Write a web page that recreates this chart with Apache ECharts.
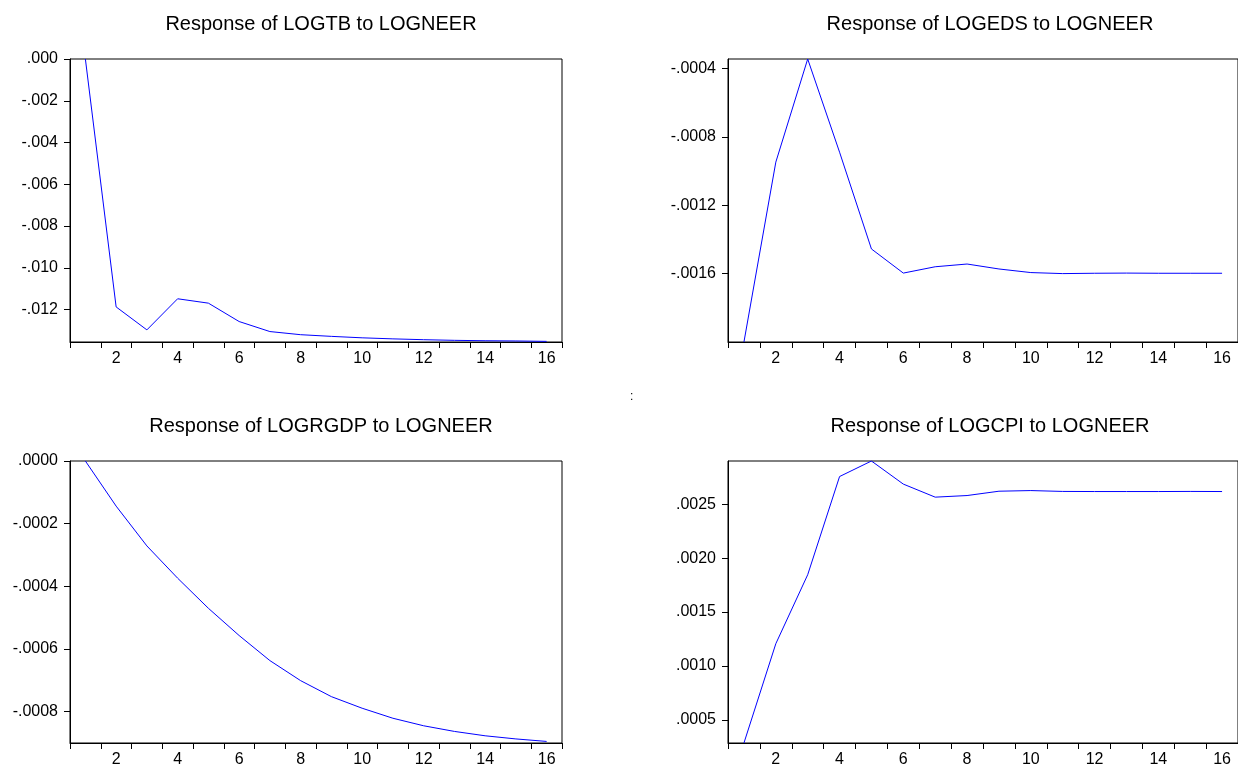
<!DOCTYPE html>
<html>
<head>
<meta charset="utf-8">
<script src="https://cdn.jsdelivr.net/npm/echarts@6/dist/echarts.min.js"></script>
<style>
  html, body { margin: 0; padding: 0; background: #fff; }
  #chart { width: 1238px; height: 768px; }
</style>
</head>
<body>
<div id="chart"></div>
<script>
// periods 1..16
const periods = ['1','2','3','4','5','6','7','8','9','10','11','12','13','14','15','16'];

const titles = [
  'Response of LOGTB to LOGNEER',
  'Response of LOGEDS to LOGNEER',
  'Response of LOGRGDP to LOGNEER',
  'Response of LOGCPI to LOGNEER'
];

// impulse responses
const logtb = [0.0000, -0.01187, -0.01297, -0.01148, -0.01169, -0.01257, -0.01305, -0.01320,
  -0.01328, -0.01335, -0.01340, -0.01344, -0.01347, -0.01349, -0.01350, -0.01352];
const logeds = [-0.00200, -0.000948, -0.000345, -0.00089, -0.001456, -0.001597, -0.00156, -0.001544,
  -0.001573, -0.001594, -0.00160, -0.001598, -0.001597, -0.001598, -0.001598, -0.001598];
const logrgdp = [0.0000, -0.000144, -0.000271, -0.000374, -0.00047, -0.000557, -0.000637, -0.000701,
  -0.000752, -0.000789, -0.000821, -0.000845, -0.000863, -0.000877, -0.000887, -0.000895];
const logcpi = [0.000287, 0.001207, 0.001846, 0.002756, 0.0029, 0.002686, 0.002565, 0.00258,
  0.00262, 0.002626, 0.002618, 0.002617, 0.002617, 0.002617, 0.002618, 0.002617];

// y tick labels per panel
const ticksTB = [0, -0.002, -0.004, -0.006, -0.008, -0.010, -0.012];
const ticksEDS = [-0.0004, -0.0008, -0.0012, -0.0016];
const ticksRGDP = [0, -0.0002, -0.0004, -0.0006, -0.0008];
const ticksCPI = [0.0005, 0.0010, 0.0015, 0.0020, 0.0025];

// axis ranges
const rangeTB = [-0.01355, 0];
const rangeEDS = [-0.00200, -0.000345];
const rangeRGDP = [-0.0009, 0];
const rangeCPI = [0.000287, 0.0029];

const grids = [
  { left: 70, top: 59, width: 492, height: 283 },
  { left: 728, top: 59, width: 514, height: 283 },
  { left: 70, top: 461, width: 492, height: 282 },
  { left: 728, top: 461, width: 514, height: 282 }
];

const panels = [
  { data: logtb, ticks: ticksTB, range: rangeTB, dec: 3 },
  { data: logeds, ticks: ticksEDS, range: rangeEDS, dec: 4 },
  { data: logrgdp, ticks: ticksRGDP, range: rangeRGDP, dec: 4 },
  { data: logcpi, ticks: ticksCPI, range: rangeCPI, dec: 4 }
];

const font = 'Liberation Sans, Arial, sans-serif';

function fmt(v, dec) {
  let s = Math.abs(v).toFixed(dec).replace(/^0/, '');
  return (v < 0 ? '-' : '') + s;
}

const chart = echarts.init(document.getElementById('chart'));

const option = {
  backgroundColor: '#fff',
  animation: false,
  title: titles.map((t, i) => ({
    text: t,
    left: grids[i].left + grids[i].width / 2,
    top: grids[i].top - 50,
    textAlign: 'center',
    textStyle: { fontFamily: font, fontSize: 20, fontWeight: 'normal', color: '#000' }
  })),
  graphic: [{
    type: 'text', left: 630, top: 391,
    style: { text: ':', fontFamily: font, fontSize: 12, fill: '#000' }
  }],
  grid: grids.map(g => Object.assign({
    show: true, borderColor: '#000', borderWidth: 1, backgroundColor: '#fff', containLabel: false
  }, g)),
  xAxis: panels.map((p, i) => ({
    type: 'category',
    gridIndex: i,
    data: periods,
    boundaryGap: true,
    axisLine: { onZero: false, lineStyle: { color: '#000', width: 1 } },
    axisTick: { show: true, interval: 0, length: 6, lineStyle: { color: '#000' } },
    axisLabel: {
      interval: (idx) => idx % 2 === 1,
      color: '#000', fontFamily: font, fontSize: 16, margin: 9
    },
    splitLine: { show: false }
  })),
  yAxis: panels.map((p, i) => ({
    type: 'value',
    gridIndex: i,
    min: p.range[0],
    max: p.range[1],
    axisLine: { show: true, onZero: false, lineStyle: { color: '#000', width: 1 } },
    axisTick: { show: true, length: 6, customValues: p.ticks, lineStyle: { color: '#000' } },
    axisLabel: {
      customValues: p.ticks,
      formatter: (v) => fmt(v, p.dec),
      color: '#000', fontFamily: font, fontSize: 16, margin: 12
    },
    splitLine: { show: false }
  })),
  series: panels.map((p, i) => ({
    type: 'line',
    xAxisIndex: i,
    yAxisIndex: i,
    data: p.data,
    showSymbol: false,
    symbol: 'none',
    lineStyle: { color: '#0000ff', width: 1 },
    clip: true
  }))
};

chart.setOption(option);
</script>
</body>
</html>
